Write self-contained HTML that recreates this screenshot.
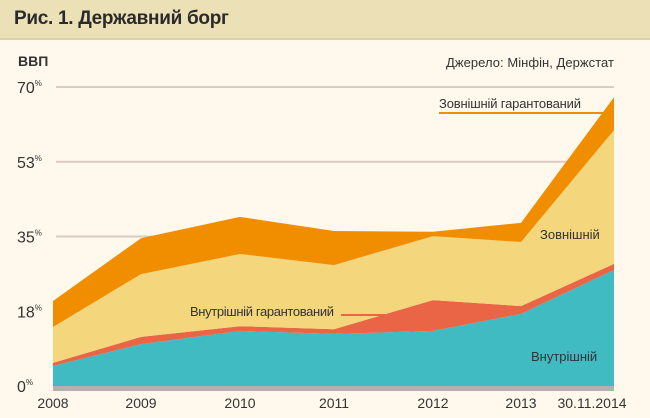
<!DOCTYPE html>
<html><head><meta charset="utf-8"><style>
body{margin:0;width:650px;height:418px;overflow:hidden;background:#fef9ec;font-family:"Liberation Sans",sans-serif}
.hdr{position:absolute;left:0;top:0;width:650px;height:38px;background:#ebe0b6;border-bottom:2px solid #ddd2a8}
.hdr span{position:absolute;left:14px;top:8px;font-size:19px;font-weight:bold;color:#2a2a2a;letter-spacing:-0.3px}
svg{position:absolute;left:0;top:0}
text{font-family:"Liberation Sans",sans-serif;fill:#333}
</style></head><body>
<div class="hdr"><span>Рис. 1. Державний борг</span></div>
<svg id="c" width="650" height="418"></svg>
<script>
const categories=["2008","2009","2010","2011","2012","2013","30.11.2014"];
const domestic=[4.7,9.8,12.9,12.2,12.9,16.9,27.2];
const domesticGuaranteed=[0.7,1.7,1.1,1.1,7.2,1.8,1.4];
const external=[8.4,14.7,16.9,15.0,15.0,15.0,31.3];
const externalGuaranteed=[6.1,8.4,8.7,8.0,1.0,4.5,7.7];
const yTicks=[0,17.5,35,52.5,70];
const yTickLabels=["0","18","35","53","70"];
const xPos=[53,141,240,334,433,521,614];
const X=i=>xPos[i];
const Y=v=>386-v*(299/70);
const svg=document.getElementById('c');
const NS='http://www.w3.org/2000/svg';
function el(t,a,p){const e=document.createElementNS(NS,t);for(const k in a)e.setAttribute(k,a[k]);(p||svg).appendChild(e);return e;}
yTicks.forEach((t,i)=>{
 if(t>0){const g=el('line',{x1:56,x2:614,y1:Y(t),y2:Y(t),stroke:'#dccbc4','stroke-width':2});
 
 }
 const tx=el('text',{x:17,y:Y(t)+6,'font-size':16,fill:'#555'});
 tx.textContent=yTickLabels[i];
 
 
 const ts=el('tspan',{'font-size':8,dy:-7},tx);ts.textContent='%';
});
const series=[domestic,domesticGuaranteed,external,externalGuaranteed];
const colors=['#3fbbc1','#ea6446','#f4d67c','#f18e00'];
const names=['area-domestic','area-domestic-guaranteed','area-external','area-external-guaranteed'];
let base=categories.map(()=>0);
series.forEach((s,k)=>{
 const top=base.map((b,i)=>b+s[i]);
 let d='M'+categories.map((c,i)=>X(i)+','+Y(top[i])).join(' L');
 for(let i=categories.length-1;i>=0;i--)d+=' L'+X(i)+','+Y(base[i]);
 const p=el('path',{d:d+'Z',fill:colors[k]});
 
 
 base=top;
});
const band=el('rect',{x:53,y:386,width:561,height:5,fill:'#b3b1aa'});


categories.forEach((c,i)=>{
 const t=el('text',{x:X(i)+(i==6?-22:0),y:408,'font-size':14,'text-anchor':'middle',fill:'#444'});
 t.textContent=c;
 
 
});
function label(txt,x,y,name){const t=el('text',{x:x,y:y,'font-size':13,fill:'#333'});t.textContent=txt;
 
 return t;}
const ax=label('ВВП',18,66,'y-axis-title');ax.setAttribute('font-weight','bold');ax.setAttribute('font-size','14');
label('Джерело: Мінфін, Держстат',446,67,'source-note').setAttribute('textLength','168');
label('Зовнішній гарантований',439,108,'label-external-guaranteed').setAttribute('textLength','142');
label('Зовнішній',540,239,'label-external');
label('Внутрішній гарантований',190,316,'label-domestic-guaranteed').setAttribute('textLength','144');
label('Внутрішній',531,361,'label-domestic');
const l1=el('line',{x1:439,x2:603,y1:113,y2:113,stroke:'#f18e00','stroke-width':2});


const l2=el('line',{x1:341,x2:385,y1:315,y2:315,stroke:'#ea6446','stroke-width':2});


</script>
</body></html>
